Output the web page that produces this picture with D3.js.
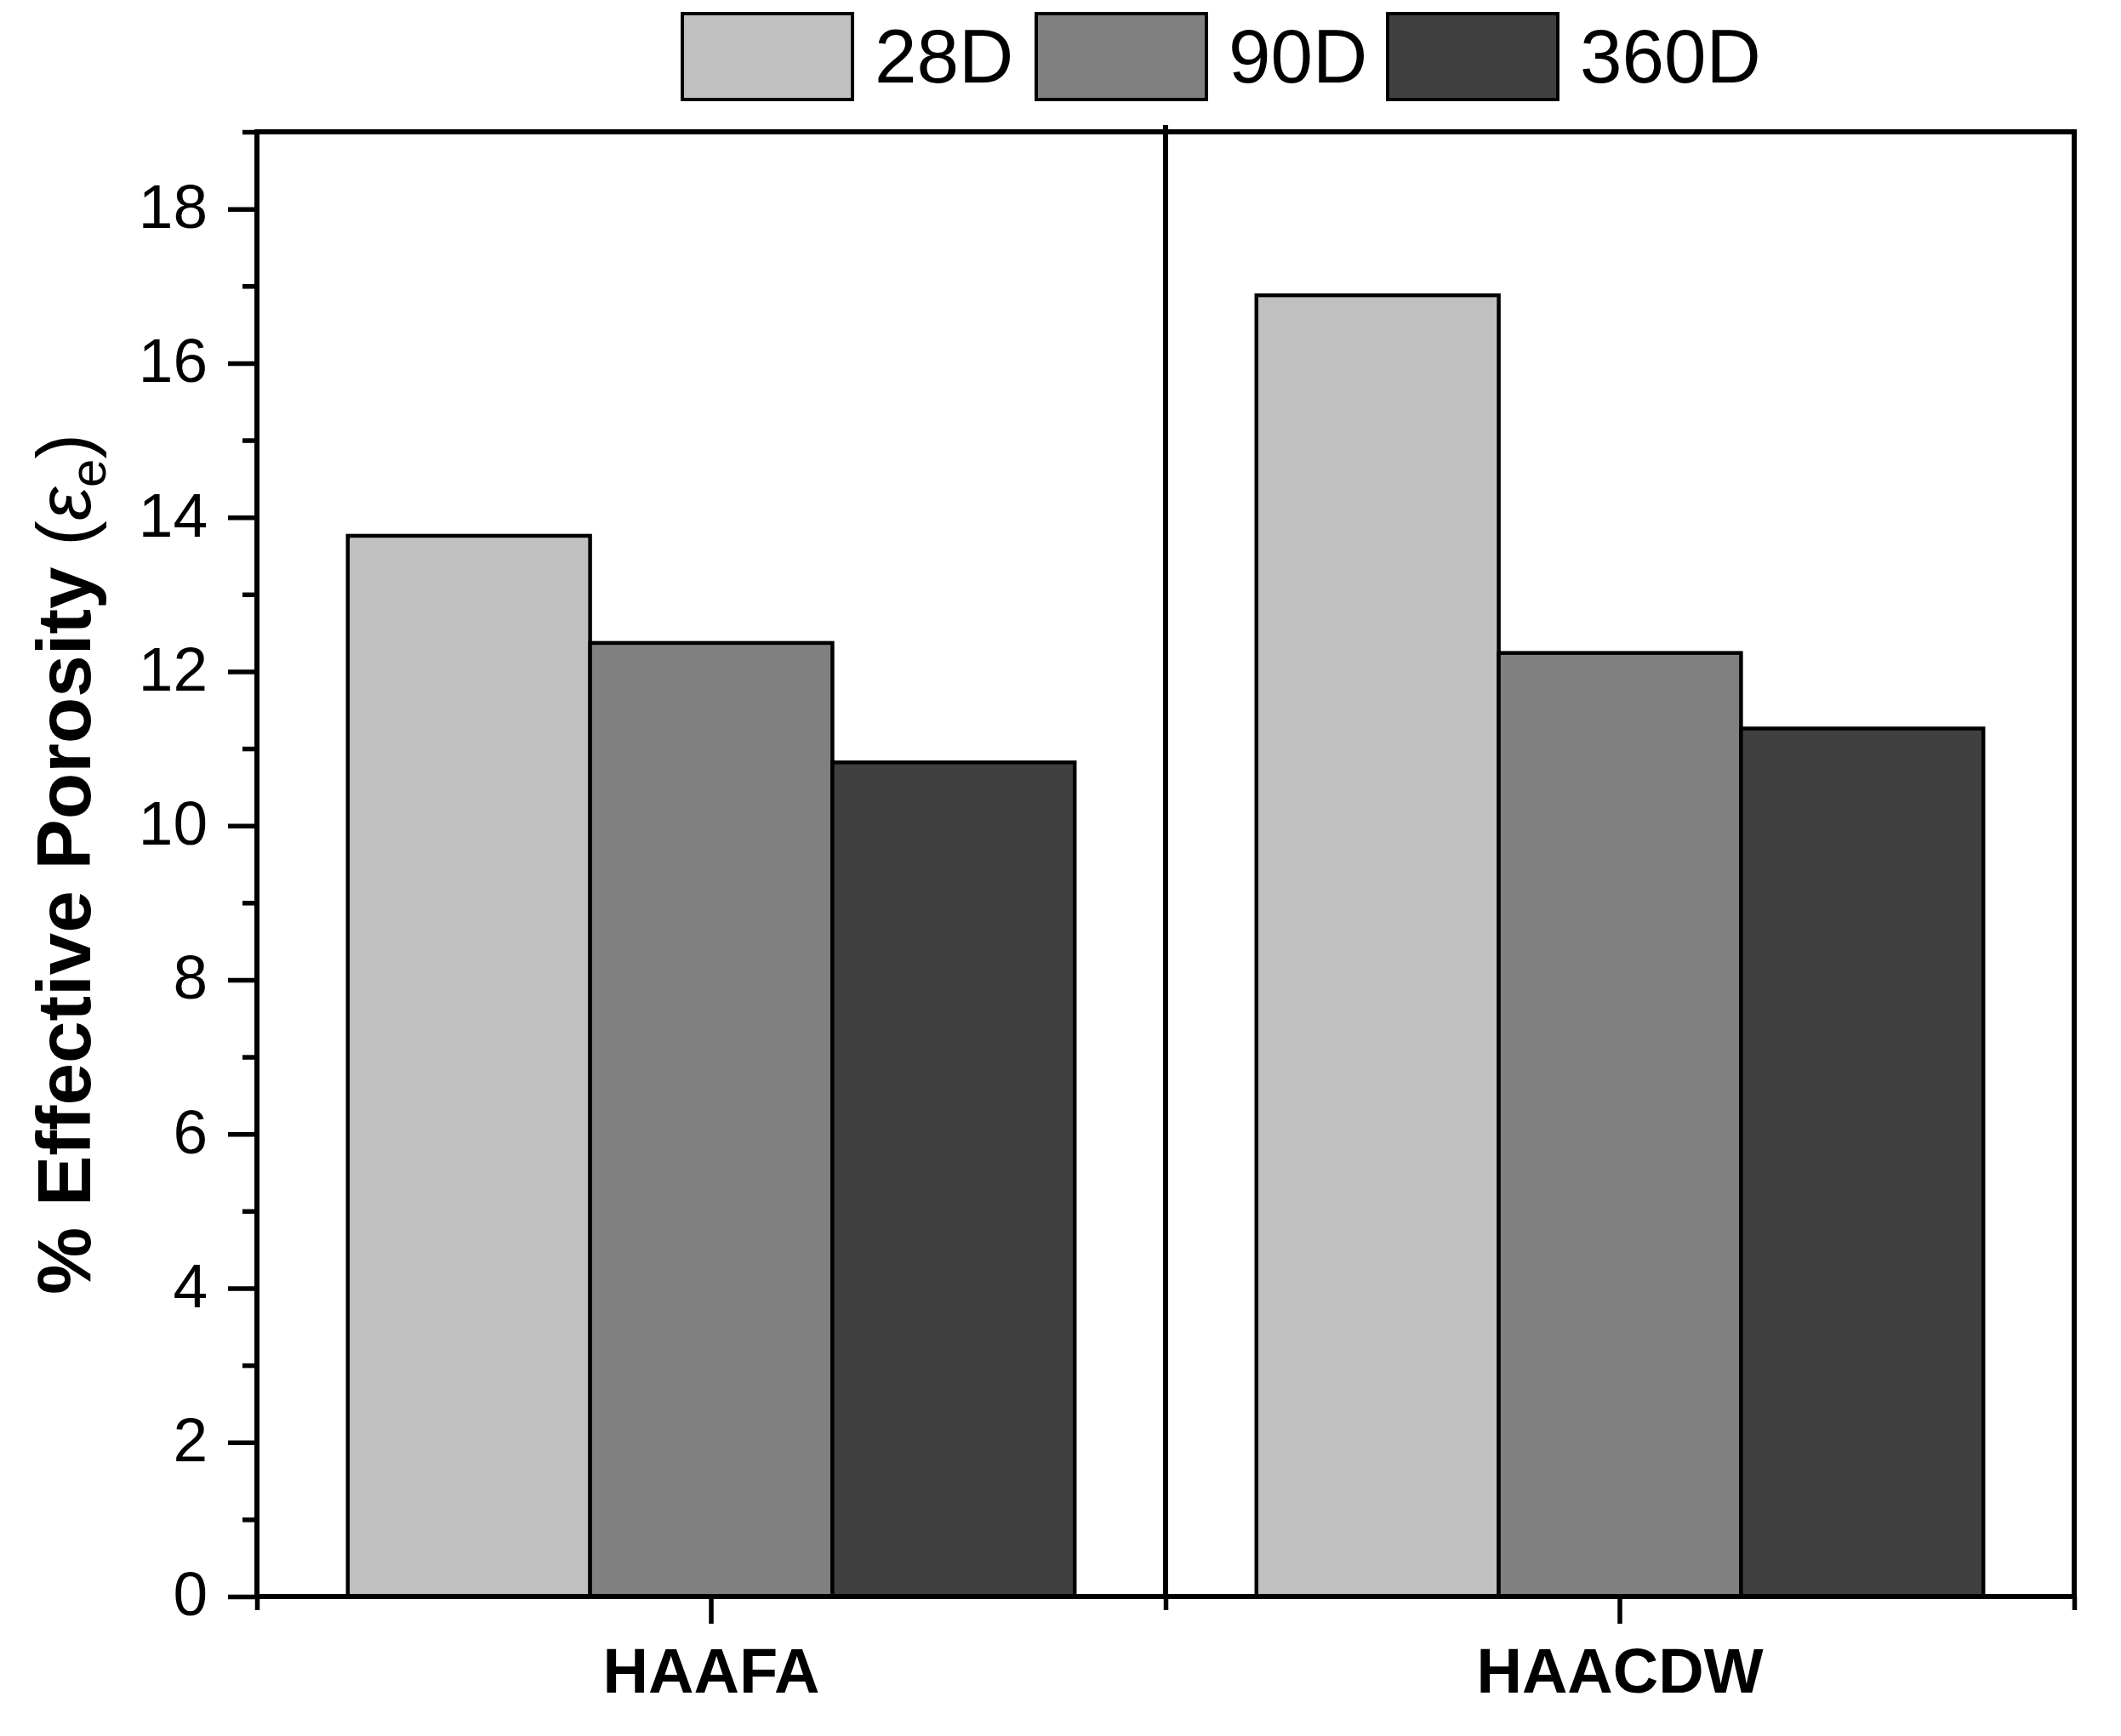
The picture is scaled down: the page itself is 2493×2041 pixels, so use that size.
<!DOCTYPE html>
<html lang="en">
<head>
  <meta charset="UTF-8" />
  <title>Effective Porosity</title>
  <script src="https://d3js.org/d3.v7.min.js"></script>
  <style>
    body {
      margin: 0;
      background: #fff;
    }
    text {
      font-family: "Liberation Sans", Arial, sans-serif;
      fill: #000;
    }
    .axis path, .axis line {
      stroke: #000;
    }
  </style>
</head>
<body>
<svg width="2493" height="2041"></svg>
<script>
// data
const categories = ["HAAFA", "HAACDW"];
const series = ["28D", "90D", "360D"];
const colors = ["#c0c0c0", "#808080", "#404040"];
const values28 = [13.76, 16.88];
const values90 = [12.37, 12.24];
const values360 = [10.82, 11.26];
const yMajorTicks = [0, 2, 4, 6, 8, 10, 12, 14, 16, 18];
const yMinorTicks = [1, 3, 5, 7, 9, 11, 13, 15, 17, 19];

const seriesValues = [values28, values90, values360];

const svg = d3.select("svg");
const plotLeft = 302, plotRight = 2438, plotTop = 155, plotBottom = 1877;

const x = d3.scaleBand().domain(categories).range([plotLeft, plotRight]).padding(0);
const bw = x.bandwidth();
const xs = d3.scaleBand().domain(series).range([bw * 0.1, bw * 0.9]).padding(0);
const y = d3.scaleLinear().domain([0, 19]).range([plotBottom, plotTop]);

// bars
const rows = [];
categories.forEach((c, i) => {
  series.forEach((s, j) => {
    rows.push({cat: c, ser: s, val: seriesValues[j][i], color: colors[j]});
  });
});

svg.append("g").selectAll("rect")
  .data(rows)
  .enter()
  .append("rect")
  .attr("x", d => x(d.cat) + xs(d.ser))
  .attr("y", d => y(d.val))
  .attr("width", xs.bandwidth())
  .attr("height", d => y(0) - y(d.val))
  .attr("fill", d => d.color)
  .attr("stroke", "#000")
  .attr("stroke-width", 4.5);

// y axis, major + minor
const yMajor = svg.append("g")
  .attr("class", "axis")
  .attr("transform", `translate(${plotLeft},0)`)
  .call(d3.axisLeft(y).tickValues(yMajorTicks).tickSize(34).tickPadding(24).tickFormat(d3.format("d")));
yMajor.select(".domain").remove();
yMajor.selectAll("line").attr("stroke-width", 5.5);
yMajor.selectAll("text")
  .attr("font-size", 73)
  .attr("dy", "0.3em")
  .attr("font-family", "'Liberation Sans', Arial, sans-serif");

const yMinor = svg.append("g")
  .attr("class", "axis")
  .attr("transform", `translate(${plotLeft},0)`)
  .call(d3.axisLeft(y).tickValues(yMinorTicks).tickSize(17).tickFormat(""));
yMinor.select(".domain").remove();
yMinor.selectAll("line").attr("stroke-width", 5.5);

// x axis: category ticks + minor ticks at borders
const xMajor = svg.append("g")
  .attr("class", "axis")
  .attr("transform", `translate(0,${plotBottom})`)
  .call(d3.axisBottom(x).tickSize(32).tickPadding(28));
xMajor.select(".domain").remove();
xMajor.selectAll("line").attr("stroke-width", 5.5);
xMajor.selectAll("text")
  .attr("font-size", 74)
  .attr("font-weight", "bold")
  .attr("font-family", "'Liberation Sans', Arial, sans-serif");

const xEdge = d3.scaleLinear().domain([0.5, 2.5]).range([plotLeft, plotRight]);
const xMinor = svg.append("g")
  .attr("class", "axis")
  .attr("transform", `translate(0,${plotBottom})`)
  .call(d3.axisBottom(xEdge).tickValues([0.5, 1.5, 2.5]).tickSize(16).tickFormat(""));
xMinor.select(".domain").remove();
xMinor.selectAll("line").attr("stroke-width", 5.5);

// frame
const frame = svg.append("g").attr("stroke", "#000").attr("stroke-width", 6);
frame.append("line").attr("x1", plotLeft).attr("x2", plotLeft).attr("y1", plotTop - 3).attr("y2", plotBottom + 3);
frame.append("line").attr("x1", plotRight).attr("x2", plotRight).attr("y1", plotTop - 3).attr("y2", plotBottom + 3);
frame.append("line").attr("x1", plotLeft - 3).attr("x2", plotRight + 3).attr("y1", plotTop).attr("y2", plotTop);
frame.append("line").attr("x1", plotLeft - 3).attr("x2", plotRight + 3).attr("y1", plotBottom).attr("y2", plotBottom);
frame.append("line").attr("x1", xEdge(1.5)).attr("x2", xEdge(1.5)).attr("y1", plotTop - 8).attr("y2", plotBottom);

// y title
const yt = svg.append("text")
  .attr("transform", `translate(106,${(plotTop + plotBottom) / 2}) rotate(-90)`)
  .attr("text-anchor", "middle")
  .attr("font-size", 89);
yt.append("tspan").attr("font-weight", "bold").text("% Effective Porosity ");
yt.append("tspan").text("(");
yt.append("tspan").attr("font-style", "italic").text("\u03b5");
yt.append("tspan").attr("font-size", 60).attr("dy", 18).text("e");
yt.append("tspan").attr("dy", -18).text(")");

// legend
const legendX = [802, 1218, 1631];
const legend = svg.append("g");
series.forEach((s, i) => {
  legend.append("rect")
    .attr("x", legendX[i]).attr("y", 16)
    .attr("width", 200).attr("height", 101)
    .attr("fill", colors[i])
    .attr("stroke", "#000").attr("stroke-width", 4);
  legend.append("text")
    .attr("x", legendX[i] + 226).attr("y", 97)
    .attr("font-size", 89)
    .text(s);
});
</script>
</body>
</html>
